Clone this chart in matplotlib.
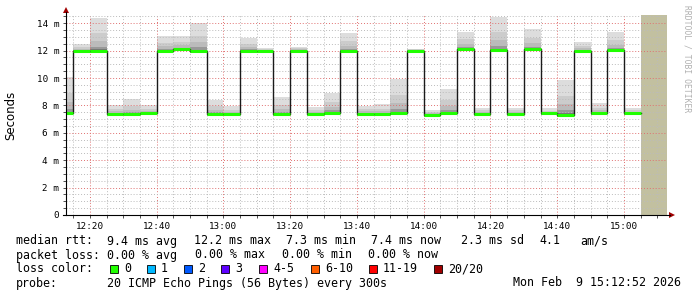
import matplotlib.pyplot as plt
from matplotlib.patches import Rectangle, Polygon
from matplotlib.lines import Line2D
from matplotlib.ticker import MultipleLocator, FuncFormatter

# 5 minute bins (start time), median rtt and top of the smoke, in ms
starts = ["12:10", "12:15", "12:20", "12:25", "12:30", "12:35", "12:40", "12:45",
          "12:50", "12:55", "13:00", "13:05", "13:10", "13:15", "13:20", "13:25",
          "13:30", "13:35", "13:40", "13:45", "13:50", "13:55", "14:00", "14:05",
          "14:10", "14:15", "14:20", "14:25", "14:30", "14:35", "14:40", "14:45",
          "14:50", "14:55", "15:00"]
median = [7.42, 12.0, 12.0, 7.4, 7.37, 7.42, 12.0, 12.1, 12.0, 7.37, 7.37, 12.0,
          11.95, 7.35, 12.0, 7.4, 7.46, 11.96, 7.4, 7.4, 7.42, 12.0, 7.33, 7.47,
          12.15, 7.4, 12.03, 7.4, 12.1, 7.43, 7.33, 12.0, 7.43, 12.05, 7.43]
smoke_top = [10.1, 12.5, 14.35, 8.0, 8.44, 8.0, 13.06, 13.06, 13.98, 8.39, 7.97, 12.93,
             12.2, 8.58, 12.3, 7.85, 8.92, 13.25, 7.97, 8.07, 9.92, 12.15, 7.66, 9.19,
             13.37, 7.83, 14.42, 7.83, 13.57, 7.78, 9.85, 12.64, 8.15, 13.37, 7.83]

loss_labels = ["0", "1", "2", "3", "4-5", "6-10", "11-19", "20/20"]
loss_colors = ["#20ff00", "#00b8ff", "#0059ff", "#5e00ff", "#ff00ff", "#ff5e00", "#ff0000", "#a00000"]

W, H = 697, 297
mono = "DejaVu Sans Mono"


def mins(s):
    h, m = s.split(":")
    return int(h) * 60 + int(m)


def fx(x):
    return x / W


def fy(y):
    return 1 - y / H


t0 = mins("12:12") + 52 / 60.0
t1 = mins("15:12") + 52 / 60.0
step = 5

fig = plt.figure(figsize=(W / 100, H / 100), dpi=100)
ax = fig.add_axes([fx(66), fy(215), 601 / W, 200 / H])

x = [mins(s) for s in starts]

# smoke layers (light outer, darker near the median)
shades = [(1.0, "#dddddd"), (0.55, "#cccccc"), (0.3, "#bbbbbb"), (0.12, "#999999"), (0.04, "#777777")]
for xi, m, top in zip(x, median, smoke_top):
    lo = m - 0.15
    for frac, col in shades:
        hi = m + frac * (top - m)
        ax.bar(xi, hi - lo, bottom=lo, width=step, align="edge", color=col, lw=0, zorder=1)

# unknown data region
ax.axvspan(x[-1] + step, t1, color="#c2c0a0", lw=0, zorder=1)

# median line
edges = x + [x[-1] + step]
ax.step(edges, median + [median[-1]], where="post", color="#1a1a1a", lw=1.0, zorder=4)
ax.hlines(median, x, [xi + step for xi in x], color=loss_colors[0], lw=2.2, zorder=5)

ax.set_xlim(t0, t1)
ax.set_ylim(0, 14.6)

ax.xaxis.set_major_locator(MultipleLocator(20))
ax.xaxis.set_minor_locator(MultipleLocator(5))
ax.xaxis.set_major_formatter(FuncFormatter(lambda v, p: "%d:%02d" % (int(v) // 60, int(v) % 60)))
ax.yaxis.set_major_locator(MultipleLocator(2))
ax.yaxis.set_minor_locator(MultipleLocator(0.5))
ax.yaxis.set_major_formatter(FuncFormatter(lambda v, p: "0" if v == 0 else "%d m" % v))

ax.grid(which="minor", color="#bbbbbb", lw=0.7, ls=(0, (1, 2)))
ax.grid(which="major", color="#e07070", lw=0.7, ls=(0, (1, 2)))
ax.set_axisbelow(False)

for sp in ax.spines.values():
    sp.set_visible(False)
ax.tick_params(which="both", direction="out", length=2, width=0.6, color="#333333")
ax.tick_params(which="major", labelsize=6.7, pad=3)
for lab in ax.get_xticklabels() + ax.get_yticklabels():
    lab.set_family(mono)

# axes with arrows
fig.add_artist(Line2D([fx(66), fx(66)], [fy(215), fy(12)], color="black", lw=0.8))
fig.add_artist(Line2D([fx(63), fx(670)], [fy(215), fy(215)], color="black", lw=0.8))
fig.add_artist(Polygon([(fx(63), fy(13)), (fx(69), fy(13)), (fx(66), fy(7))], closed=True,
                       color="#a00000", lw=0))
fig.add_artist(Polygon([(fx(669), fy(212)), (fx(669), fy(218)), (fx(675), fy(215))], closed=True,
                       color="#a00000", lw=0))

fig.text(fx(11), fy(115), "Seconds", rotation=90, ha="center", va="center",
         family="DejaVu Sans", size=8.5)
fig.text(fx(687), fy(5), "RRDTOOL / TOBI OETIKER", rotation=270, ha="center", va="top",
         family=mono, size=5.8, color="#b0b0b0")

# legend
fs = 8.4
row1 = [(16, "median rtt:"), (107, "9.4 ms avg"), (194, "12.2 ms max"), (286, "7.3 ms min"),
        (371, "7.4 ms now"), (461, "2.3 ms sd"), (539, "4.1"), (580, "am/s")]
for xx, s in row1:
    fig.text(fx(xx), fy(241), s, family=mono, size=fs, va="center")
row2 = [(16, "packet loss:"), (107, "0.00 % avg"), (195, "0.00 % max"), (282, "0.00 % min"),
        (368, "0.00 % now")]
for xx, s in row2:
    fig.text(fx(xx), fy(255), s, family=mono, size=fs, va="center")

fig.text(fx(16), fy(269), "loss color:", family=mono, size=fs, va="center")
box_x = [110, 147, 184, 221, 259, 311, 369, 434]
for bx, lab, col in zip(box_x, loss_labels, loss_colors):
    fig.add_artist(Rectangle((fx(bx), fy(273)), 8 / W, 8 / H, facecolor=col,
                             edgecolor="black", lw=0.6))
    fig.text(fx(bx + 14), fy(269), lab, family=mono, size=fs, va="center")

fig.text(fx(16), fy(283), "probe:", family=mono, size=fs, va="center")
fig.text(fx(107), fy(283), "20 ICMP Echo Pings (56 Bytes) every 300s", family=mono, size=fs, va="center")
fig.text(fx(681), fy(283), "Mon Feb  9 15:12:52 2026", family=mono, size=fs, va="center", ha="right")

fig.savefig("out.png", dpi=100)
